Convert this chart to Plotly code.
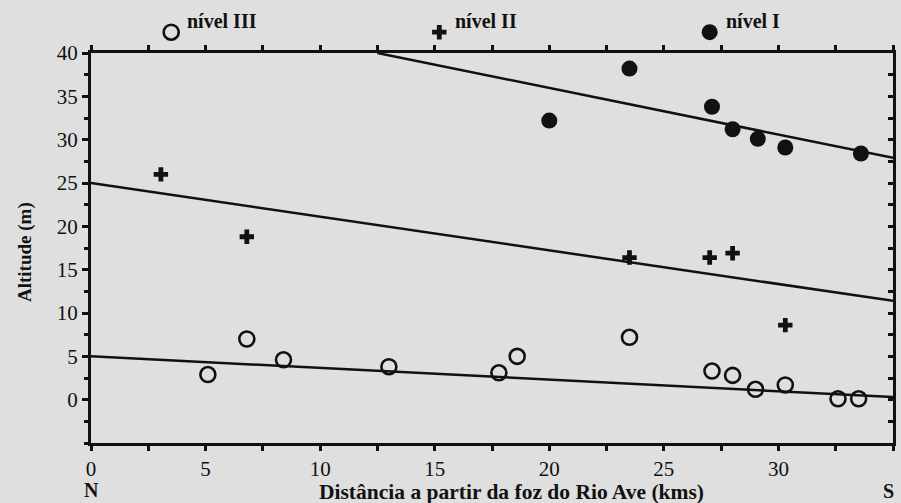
import plotly.graph_objects as go

# Data
nivel1_x = [20.0, 23.5, 27.1, 28.0, 29.1, 30.3, 33.6]
nivel1_y = [32.2, 38.2, 33.8, 31.2, 30.1, 29.1, 28.4]

nivel2_x = [3.05, 6.8, 23.5, 27.0, 28.0, 30.3]
nivel2_y = [26.0, 18.8, 16.4, 16.4, 16.9, 8.6]

nivel3_x = [5.1, 6.8, 8.4, 13.0, 17.8, 18.6, 23.5, 27.1, 28.0, 29.0, 30.3, 32.6, 33.5]
nivel3_y = [2.9, 7.0, 4.6, 3.8, 3.1, 5.0, 7.2, 3.3, 2.8, 1.2, 1.7, 0.1, 0.1]

line1_x = [12.5, 35.0]
line1_y = [40.0, 27.9]
line2_x = [0.0, 35.0]
line2_y = [25.0, 11.4]
line3_x = [0.0, 35.0]
line3_y = [5.0, 0.3]

legend_x = [3.5, 15.2, 27.0]
legend_y = [42.4, 42.4, 42.4]
legend_labels = ["nível III", "nível II", "nível I"]

x_ticks = [0, 5, 10, 15, 20, 25, 30, 35]
y_ticks = [0, 5, 10, 15, 20, 25, 30, 35, 40]

BG = "#dfdfdf"
INK = "#111111"
FONT = "Liberation Serif"

W, H = 901, 503
L, R, T, B = 91, 8, 0, 60
PLOT_TOP = 53  # pixel y of top of main plot
pw, ph = W - L - R, H - T - B
main_frac = (H - B - PLOT_TOP) / ph
y_lo, y_hi = -5, 40
px_per_unit = (H - B - PLOT_TOP) / (y_hi - y_lo)
y3_hi = y_hi + PLOT_TOP / px_per_unit


def px(xp):
    return (xp - L) / pw


def py(yp):
    return (H - B - yp) / ph


fig = go.Figure()

for lx, ly in [(line1_x, line1_y), (line2_x, line2_y), (line3_x, line3_y)]:
    fig.add_trace(go.Scatter(x=lx, y=ly, mode="lines",
                             line=dict(color=INK, width=2.5), showlegend=False))

fig.add_trace(go.Scatter(x=nivel1_x, y=nivel1_y, mode="markers",
                         marker=dict(symbol="circle", size=16, color=INK),
                         showlegend=False))
fig.add_trace(go.Scatter(x=nivel2_x, y=nivel2_y, mode="markers",
                         marker=dict(symbol="cross", size=12, color=INK),
                         showlegend=False))
fig.add_trace(go.Scatter(x=nivel3_x, y=nivel3_y, mode="markers",
                         marker=dict(symbol="circle-open", size=15, color=INK,
                                     line=dict(width=2.6, color=INK)),
                         showlegend=False))

# legend markers above the plot (on an axis extension above y=40)
fig.add_trace(go.Scatter(x=[legend_x[0]], y=[legend_y[0]], mode="markers",
                         xaxis="x3", yaxis="y3",
                         marker=dict(symbol="circle-open", size=15, color=INK,
                                     line=dict(width=2.6, color=INK)),
                         cliponaxis=False, showlegend=False))
fig.add_trace(go.Scatter(x=[legend_x[1]], y=[legend_y[1]], mode="markers",
                         xaxis="x3", yaxis="y3",
                         marker=dict(symbol="cross", size=12, color=INK),
                         cliponaxis=False, showlegend=False))
fig.add_trace(go.Scatter(x=[legend_x[2]], y=[legend_y[2]], mode="markers",
                         xaxis="x3", yaxis="y3",
                         marker=dict(symbol="circle", size=16, color=INK),
                         cliponaxis=False, showlegend=False))

for lx, ly, lab in zip(legend_x, legend_y, legend_labels):
    fig.add_annotation(x=lx, y=ly + 1.3, xref="x3", yref="y3",
                       text="<b>" + lab + "</b>", showarrow=False,
                       xanchor="left", xshift=14,
                       font=dict(family=FONT, size=20, color=INK))

# dummy trace for right axis
fig.add_trace(go.Scatter(x=[None], y=[None], yaxis="y2", showlegend=False))

tickfont = dict(family=FONT, size=21, color=INK)

fig.update_layout(
    width=W, height=H,
    margin=dict(l=L, r=R, t=T, b=B, autoexpand=False),
    paper_bgcolor=BG, plot_bgcolor=BG,
    font=dict(family=FONT, color=INK),
    xaxis=dict(range=[0, 35], tickvals=x_ticks, showgrid=False, zeroline=False,
               anchor="y",
               showline=True, linecolor=INK, linewidth=3, mirror="ticks",
               ticks="outside", ticklen=5, tickwidth=2.5, tickcolor=INK,
               minor=dict(tick0=0, dtick=2.5, ticks="outside", ticklen=5,
                          tickwidth=2.5, tickcolor=INK),
               ticklabelstandoff=0,
               tickfont=tickfont),
    yaxis=dict(range=[y_lo, y_hi], domain=[0, main_frac], tickvals=y_ticks,
               showgrid=False, zeroline=False, anchor="x",
               showline=True, linecolor=INK, linewidth=3,
               ticks="outside", ticklen=6, tickwidth=2.5, tickcolor=INK,
               minor=dict(tick0=0, dtick=2.5, ticks="outside", ticklen=4,
                          tickwidth=2.5, tickcolor=INK),
               tickfont=tickfont),
    yaxis2=dict(range=[y_lo, y_hi], overlaying="y", side="right", anchor="x",
                showgrid=False, zeroline=False, showticklabels=False,
                showline=True, linecolor=INK, linewidth=3,
                tickmode="linear", tick0=0, dtick=2.5,
                ticks="inside", ticklen=5, tickwidth=2.5, tickcolor=INK),
    xaxis3=dict(range=[0, 35], anchor="y3", visible=False),
    yaxis3=dict(range=[y_hi, y3_hi], domain=[main_frac, 1], anchor="x3",
                visible=False),
)

fig.add_annotation(x=px(25), y=py(252), xref="paper", yref="paper",
                   text="<b>Altitude (m)</b>", textangle=-90, showarrow=False,
                   xanchor="center", yanchor="middle",
                   font=dict(family=FONT, size=19, color=INK))
fig.add_annotation(x=px(511), y=py(492), xref="paper", yref="paper",
                   text="<b>Distância a partir da foz do Rio Ave (kms)</b>",
                   xanchor="center", yanchor="middle",
                   showarrow=False, font=dict(family=FONT, size=21.5, color=INK))
fig.add_annotation(x=px(91), y=py(490), xref="paper", yref="paper",
                   text="<b>N</b>", xanchor="center", yanchor="middle",
                   showarrow=False, font=dict(family=FONT, size=20, color=INK))
fig.add_annotation(x=px(888), y=py(491), xref="paper", yref="paper",
                   text="<b>S</b>", xanchor="center", yanchor="middle",
                   showarrow=False, font=dict(family=FONT, size=20, color=INK))

fig.write_html("out.html",
               config={"displayModeBar": False},
               post_script="document.body.style.margin='0';"
                           "document.body.style.overflow='hidden';")
